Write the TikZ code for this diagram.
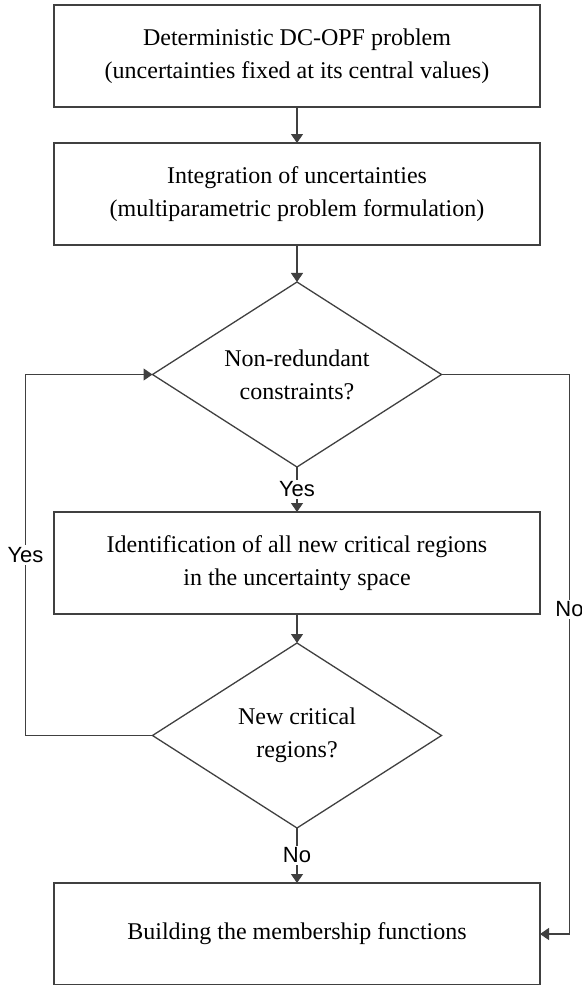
\documentclass[tikz,border=0pt]{standalone}
\usepackage{fontspec}
\setmainfont{Liberation Serif}
\newfontfamily\answerfont{Liberation Sans}
\usetikzlibrary{positioning, arrows.meta, shapes.geometric}

\begin{document}
\begin{tikzpicture}[
	line width=0.65pt,
	>={Triangle[length=4.5pt,width=6pt]},
	% Style for the process steps (boxes)
	process/.style={
		rectangle,
		draw=black!75,
		minimum width=243pt,
		minimum height=51pt,
		inner sep=0pt,
		outer sep=0pt,
		align=center,
		font=\fontsize{12}{16.25}\selectfont
	},
	% Style for the decisions (diamonds)
	decision/.style={
		diamond,
		aspect=1.56,
		draw=black!75,
		minimum width=144.5pt,
		minimum height=92.5pt,
		inner sep=0pt,
		outer sep=0pt,
		align=center,
		font=\fontsize{12}{16.5}\selectfont
	},
	% Style for the connectors
	flow/.style={
		->,
		draw=black!75
	},
	% Style for the Yes/No labels sitting on a connector
	answer/.style={
		fill=white,
		inner sep=1pt,
		font=\answerfont\fontsize{11}{13}\selectfont
	}
	]
	
	\useasboundingbox (0,0) rectangle (291pt,-492.5pt);
	
	% --- NODES ---
	
	% Problem set-up
	\node[process] (Det) at (148.5pt,-28pt) {Deterministic DC-OPF problem\\(uncertainties fixed at its central values)};
	\node[process, below=18pt of Det] (Integ) {Integration of uncertainties\\(multiparametric problem formulation)};
	
	% Exploration loop
	\node[decision, below=18.5pt of Integ] (NonRed) {Non-redundant\\constraints?};
	\node[process, below=22.5pt of NonRed] (Ident) {Identification of all new critical regions\\in the uncertainty space};
	\node[decision, below=14.5pt of Ident] (NewCrit) {New critical\\regions?};
	
	% Result
	\node[process, below=27.5pt of NewCrit] (Build) {Building the membership functions};
	
	% --- EDGES ---
	
	% Main flow
	\draw[flow] (Det) -- (Integ);
	\draw[flow] (Integ) -- (NonRed);
	\draw[flow] (NonRed) -- node[answer] {Yes} (Ident);
	\draw[flow] (Ident) -- (NewCrit);
	\draw[flow] (NewCrit) -- node[answer] {No} (Build);
	
	% Back to the constraint test
	\draw[flow] (NewCrit.west) -- ++(-63.5pt,0) |- node[answer, pos=0.25] {Yes} (NonRed.west);
	
	% Straight to the membership functions
	\draw[flow] (NonRed.east) -- ++(64pt,0) |- node[answer, pos=0.21] {No} (Build.east);
	
\end{tikzpicture}
\end{document}
